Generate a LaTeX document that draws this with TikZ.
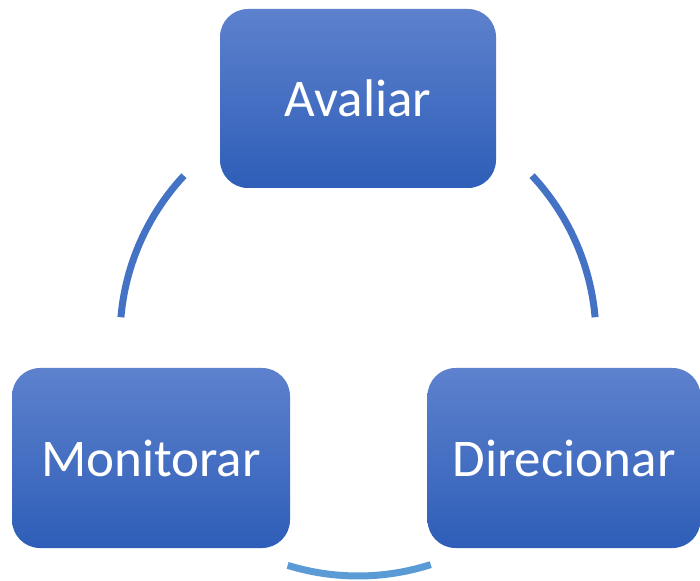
\documentclass[tikz,border=0pt]{standalone}
\usepackage{fontspec}
\setmainfont{Carlito}
\definecolor{boxtop}{RGB}{93,129,205}
\definecolor{boxbot}{RGB}{46,94,184}
\definecolor{arcblue}{RGB}{68,114,196}
\definecolor{arclight}{RGB}{91,155,213}
\tikzset{
  stagebox/.style={rectangle, rounded corners=28pt, top color=boxtop, bottom color=boxbot, draw=none,
    text=white, font=\fontsize{53}{63}\selectfont, inner sep=0pt},
  ring/.style={line width=7pt, draw=arcblue},
}
\begin{document}
\begin{tikzpicture}[x=1pt,y=1pt]
\useasboundingbox (0,0) rectangle (700,580);
\node[stagebox, minimum width=276pt, minimum height=179pt] (aval) at (358,481.5) {Avaliar};
\node[stagebox, minimum width=278pt, minimum height=180pt] (moni) at (151,122) {Monitorar};
\node[stagebox, minimum width=273pt, minimum height=180pt] (dire) at (564,122) {Direcionar};
\coordinate (c) at (358,242);
\draw[ring] ([shift={(137:238)}]c) arc[start angle=137, end angle=175, radius=238];
\draw[ring] ([shift={(43:238)}]c) arc[start angle=43, end angle=5, radius=238];
\draw[ring, draw=arclight] ([shift={(252.8:238)}]c) arc[start angle=252.8, end angle=287.8, radius=238];
\end{tikzpicture}
\end{document}
